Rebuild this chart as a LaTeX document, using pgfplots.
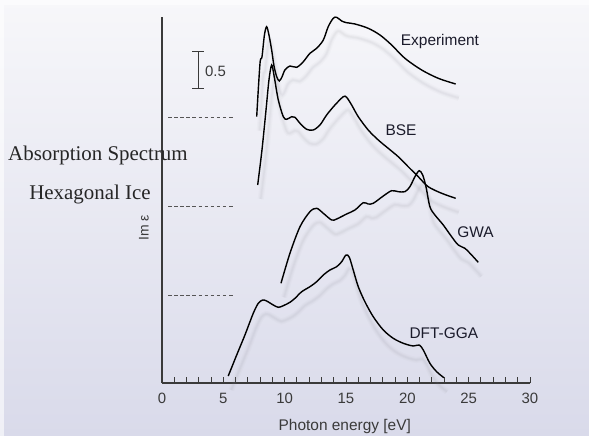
\documentclass[border=0pt]{standalone}
\usepackage{fontspec}
\setmainfont{Liberation Sans}
\newfontfamily\titlefont{Liberation Serif}
\usepackage{pgfplots}
\pgfplotsset{compat=1.18}
\usepackage{pgfplotstable}

\definecolor{bgtop}{HTML}{F7F7FA}
\definecolor{bgbot}{HTML}{D9DAEA}
\definecolor{axisgray}{HTML}{3A3A3A}
\definecolor{labelink}{HTML}{1B1B2B}
\definecolor{dashgray}{HTML}{555555}
\definecolor{shadowc}{HTML}{8A8A92}

% Im(eps) spectra, vertically offset for display (y in bp above the energy axis)
\pgfplotstableread{
x y
7.72 266.3
7.99 319.7
8.15 326
8.35 348
8.53 356.3
8.72 348
8.94 333
9.13 317
9.35 306.3
9.56 302
9.78 306
10.02 313
10.43 317
10.98 315.7
11.52 321.3
12.06 329.7
12.61 334.7
13.15 343
13.55 356.3
13.96 364.7
14.24 365.7
14.65 362
15.05 360.3
15.73 359
16.81 354.7
17.77 348
18.72 338
19.80 324.7
21.17 313
22.52 304.7
23.94 299
}\experiment

\pgfplotstableread{
x y
7.80 198
8.15 233
8.48 273
8.72 303
8.94 318
9.15 306.3
9.48 283
9.89 266.3
10.16 263.7
10.57 266.3
10.84 265.7
11.25 259.7
11.79 253.7
12.33 253
12.88 258
13.42 268
14.10 278
14.78 286.3
15.05 285.7
15.46 278
16.00 266.3
16.81 253
17.63 243
18.44 234.7
19.26 226.3
20.07 216.3
20.89 206.3
21.70 196.3
22.80 189.7
23.94 184.7
}\bse

\pgfplotstableread{
x y
9.70 99.7
10.43 129.7
11.25 156.3
12.06 171.3
12.61 174.7
13.15 169.7
13.83 163
14.24 164
15.05 169
15.73 173
16.41 180.3
16.81 179
17.22 179.7
18.04 187
18.72 192.3
19.26 191.3
19.80 191.3
20.21 196.3
20.62 206.3
20.97 212.3
21.25 208
21.52 196.3
21.84 176.3
22.25 168
22.93 158
23.61 146.3
24.15 138
24.69 134.7
25.24 128
25.78 120.7
}\gwa

\pgfplotstableread{
x y
5.40 7
6.09 28
6.76 48
7.44 69.7
7.85 79.7
8.21 83
8.53 82
9.07 78
9.48 75.7
9.89 77.3
10.43 80.7
10.84 84.7
11.39 91.3
12.06 96.3
12.61 101.3
13.15 108
13.69 113
14.24 116.3
14.65 121.3
15.00 128
15.27 125.7
15.59 113
16.00 96.3
16.54 81.3
17.22 66.3
18.04 53
18.85 44.7
19.67 39.7
20.48 37
20.97 38
21.30 33
21.84 19.7
22.39 11.3
22.98 5.3
}\dftgga

\pgfplotsset{
  spectrum/.style={black, line width=1.4bp, smooth, tension=0.5, no marks},
  softshadow/.style={draw=shadowc, smooth, tension=0.5, no marks,
    x filter/.expression={x+0.25}, y filter/.expression={y-14}},
}
\newcommand\spectrumcurve[1]{%
  \addplot[softshadow, line width=6bp, opacity=0.035] table {#1};
  \addplot[softshadow, line width=3.5bp, opacity=0.05] table {#1};
  \addplot[softshadow, line width=1.5bp, opacity=0.06] table {#1};
  \addplot[spectrum] table {#1};
}

\begin{document}
\begin{tikzpicture}
\shade[top color=bgtop, bottom color=bgbot] (-162bp,-53bp) rectangle (427bp,383bp);
% light margin along the top and left edges
\fill[white, opacity=0.6] (-162bp,378bp) rectangle (427bp,383bp);
\fill[white, opacity=0.6] (-162bp,-53bp) rectangle (-158bp,378bp);
\begin{axis}[
  at={(0,0)}, anchor=south west,
  scale only axis, width=368bp, height=366bp,
  xmin=0, xmax=30, ymin=0, ymax=366,
  clip=false,
  axis lines*=left,
  axis line style={axisgray, line width=1.1bp},
  xtick={0,5,...,30},
  minor xtick={0,1,...,30},
  ytick=\empty,
  tick align=inside,
  xtick pos=bottom,
  major tick length=6bp, minor tick length=6bp,
  every tick/.style={axisgray, line width=0.9bp},
  /pgf/number format/assume math mode=true,
  xticklabel style={font=\fontsize{15}{18}\selectfont, text=axisgray, yshift=-7bp},
]
\spectrumcurve{\experiment}
\spectrumcurve{\bse}
\spectrumcurve{\gwa}
\spectrumcurve{\dftgga}

% zero-lines of the offset spectra
\foreach \yb in {266,177,88}{
  \edef\tmp{\noexpand\draw[dashgray, line width=0.9bp, dash pattern=on 3.5bp off 2.6bp]
    (axis cs:0.49,\yb) -- (axis cs:5.95,\yb);}\tmp
}

% scale bar
\draw[axisgray, line width=1.1bp] (axis cs:2.97,294.5) -- (axis cs:2.97,331.5)
  (axis cs:2.48,294.5) -- (axis cs:3.46,294.5)
  (axis cs:2.48,331.5) -- (axis cs:3.46,331.5);
\node[anchor=west, font=\fontsize{15}{18}\selectfont, text=axisgray, inner sep=0pt]
  at (axis cs:3.5,312) {0.5};

\begin{scope}[every node/.style={font=\fontsize{15.5}{18}\selectfont, text=labelink, inner sep=0pt}]
\node at (axis cs:22.66,341) {Experiment};
\node at (axis cs:19.48,253) {BSE};
\node at (axis cs:25.55,151.3) {GWA};
\node at (axis cs:22.98,49.7) {DFT-GGA};
\end{scope}

\node[rotate=90, font=\fontsize{14}{16}\selectfont, text=axisgray, inner sep=0pt]
  at (axis cs:-1.47,155) {Im ε};
\node[font=\fontsize{15.5}{18}\selectfont, text=axisgray, inner sep=0pt]
  at (axis cs:14.9,-43.7) {Photon energy [eV]};

\node[font=\titlefont\fontsize{21}{24}\selectfont, text=black!85, inner sep=0pt]
  at (axis cs:-5.22,228) {Absorption Spectrum};
\node[font=\titlefont\fontsize{21}{24}\selectfont, text=black!85, inner sep=0pt]
  at (axis cs:-5.87,188) {Hexagonal Ice};
\end{axis}
\pgfresetboundingbox
\useasboundingbox (-162bp,-53bp) rectangle (427bp,383bp);
\end{tikzpicture}
\end{document}
